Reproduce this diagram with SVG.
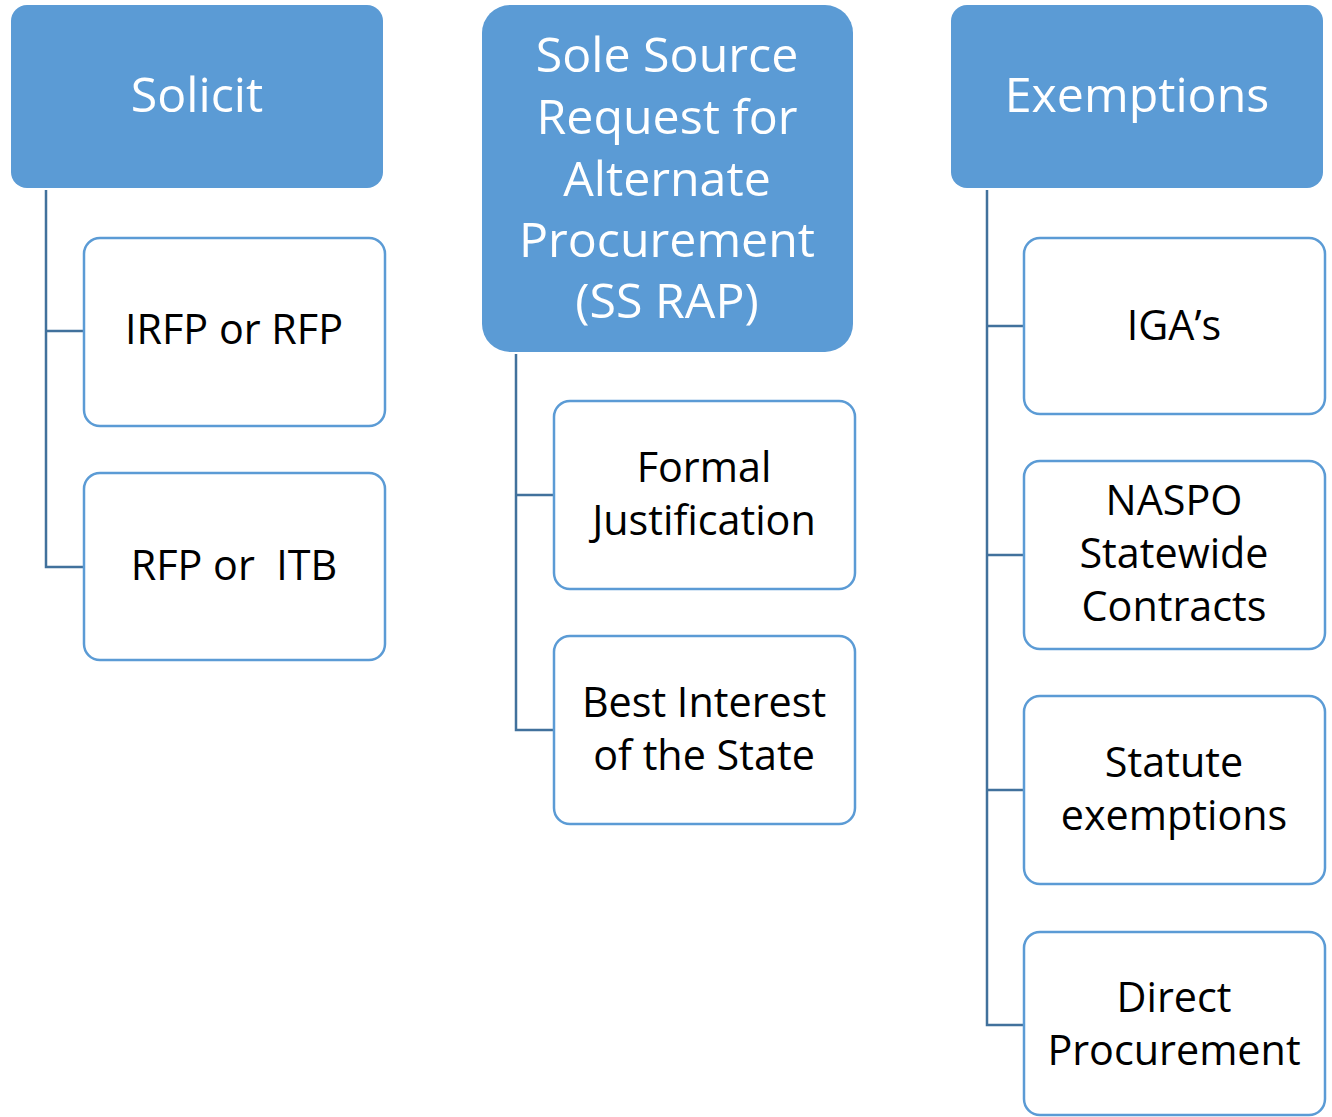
<svg xmlns="http://www.w3.org/2000/svg" width="1332" height="1117" viewBox="0 0 1332 1117">
<style>
.hdr{fill:#5B9BD5;stroke:none}
.box{fill:#FFFFFF;stroke:#5B9BD5;stroke-width:2.5}
.ht{font-family:"Open Sans","Noto Sans",sans-serif;font-size:48.3px;fill:#FFFFFF;text-anchor:middle}
.ct{font-family:"Open Sans","Noto Sans",sans-serif;font-size:41.3px;fill:#000000;text-anchor:middle}
.conn{fill:none;stroke:#41719C;stroke-width:2.5}
</style>
<rect width="1332" height="1117" fill="#FFFFFF"/>
<g id="connectors">
<path class="conn" d="M46,190 V567 H84 M46,331 H84"/>
<path class="conn" d="M516,354 V730 H554 M516,495 H554"/>
<path class="conn" d="M987,190 V1025 H1024 M987,326 H1024 M987,555 H1024 M987,790 H1024"/>
</g>
<g id="solicit"><rect class="hdr" x="11" y="5" width="372" height="183" rx="16"/><text class="ht" x="197" y="112">Solicit</text></g>
<g id="irfp"><rect class="box" x="84" y="238" width="301" height="188" rx="16"/><text class="ct" x="234" y="344">IRFP or RFP</text></g>
<g id="rfp"><rect class="box" x="84" y="473" width="301" height="187" rx="16"/><text class="ct" x="234" y="580" xml:space="preserve">RFP or  ITB</text></g>
<g id="ssrap"><rect class="hdr" x="482" y="5" width="371" height="347" rx="28"/>
<text class="ht" x="667"><tspan x="667" y="72">Sole Source</tspan><tspan x="667" y="134">Request for</tspan><tspan x="667" y="196">Alternate</tspan><tspan x="667" y="257">Procurement</tspan><tspan x="667" y="318">(SS RAP)</tspan></text></g>
<g id="formal"><rect class="box" x="554" y="401" width="301" height="188" rx="16"/><text class="ct"><tspan x="704" y="482">Formal</tspan><tspan x="704" y="535">Justification</tspan></text></g>
<g id="best"><rect class="box" x="554" y="636" width="301" height="188" rx="16"/><text class="ct"><tspan x="704" y="717">Best Interest</tspan><tspan x="704" y="770">of the State</tspan></text></g>
<g id="exemptions"><rect class="hdr" x="951" y="5" width="372" height="183" rx="16"/><text class="ht" x="1137" y="112">Exemptions</text></g>
<g id="iga"><rect class="box" x="1024" y="238" width="301" height="176" rx="16"/><text class="ct" x="1174" y="340">IGA’s</text></g>
<g id="naspo"><rect class="box" x="1024" y="461" width="301" height="188" rx="16"/><text class="ct"><tspan x="1174" y="515">NASPO</tspan><tspan x="1174" y="568">Statewide</tspan><tspan x="1174" y="621">Contracts</tspan></text></g>
<g id="statute"><rect class="box" x="1024" y="696" width="301" height="188" rx="16"/><text class="ct"><tspan x="1174" y="777">Statute</tspan><tspan x="1174" y="830">exemptions</tspan></text></g>
<g id="direct"><rect class="box" x="1024" y="932" width="301" height="183" rx="16"/><text class="ct"><tspan x="1174" y="1012">Direct</tspan><tspan x="1174" y="1065">Procurement</tspan></text></g>
</svg>
